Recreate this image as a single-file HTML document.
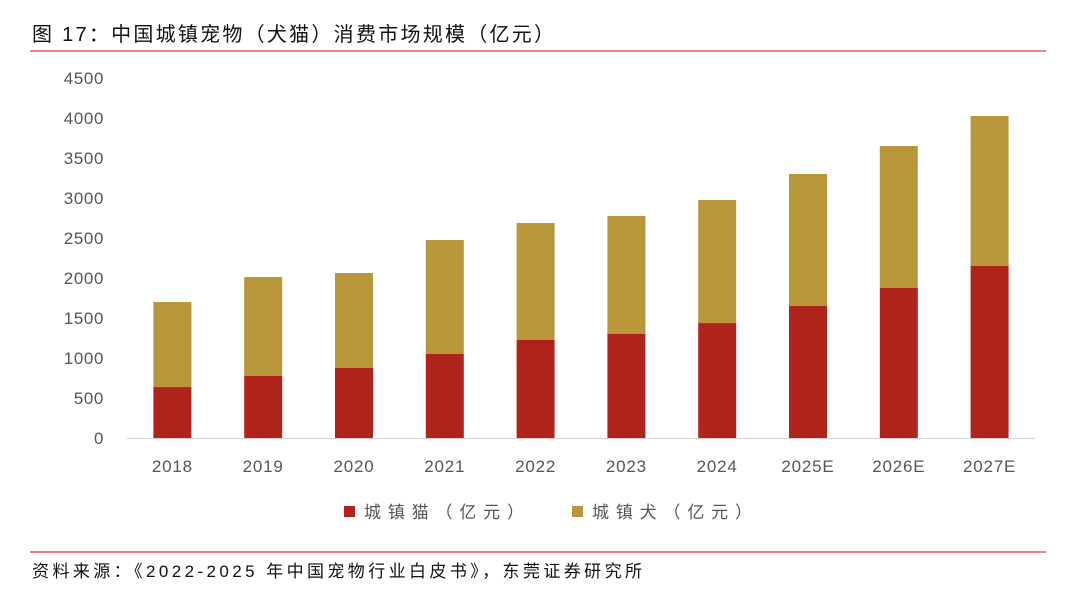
<!DOCTYPE html>
<html><head><meta charset="utf-8"><style>
body{margin:0;width:1080px;height:588px;background:#fff;overflow:hidden;font-family:"Liberation Sans","Noto Sans CJK SC",sans-serif}
</style></head><body>
<svg width="1080" height="588">
<text x="32" y="41" font-size="20" fill="#111" textLength="522" lengthAdjust="spacing">图 17：中国城镇宠物（犬猫）消费市场规模（亿元）</text>
<line x1="30" y1="51" x2="1046" y2="51" stroke="#e03a3a" stroke-width="1.2"/>
<g id="plot"></g>
<g>
<rect x="344" y="506" width="11" height="11" fill="#B0231A"/>
<text x="364" y="518" font-size="17" fill="#555" textLength="160" lengthAdjust="spacing">城镇猫（亿元）</text>
<rect x="572" y="506" width="11" height="11" fill="#B8963A"/>
<text x="592" y="518" font-size="17" fill="#555" textLength="160" lengthAdjust="spacing">城镇犬（亿元）</text>
</g>
<line x1="30" y1="552" x2="1046" y2="552" stroke="#e03a3a" stroke-width="1.2"/>
<text x="32" y="577" font-size="17" fill="#111" textLength="610" lengthAdjust="spacing">资料来源：《2022-2025 年中国宠物行业白皮书》，东莞证券研究所</text>
</svg>
<script>
const categories=["2018","2019","2020","2021","2022","2023","2024","2025E","2026E","2027E"];
const catValues=[637,775,875,1050,1225,1300,1437,1650,1875,2150];
const dogValues=[1063,1237,1187,1425,1462,1475,1538,1650,1775,1875];
const yTicks=[0,500,1000,1500,2000,2500,3000,3500,4000,4500];
const x0=127,x1=1035,y0=438,yMax=4500,yTop=78;
const ys=v=>y0-(v/yMax)*(y0-yTop);
const band=(x1-x0)/categories.length;
const xs=i=>x0+band*(i+0.5);
const bw=38;
const g=document.getElementById('plot');
const NS='http://www.w3.org/2000/svg';
function mk(t,a){const e=document.createElementNS(NS,t);for(const k in a)e.setAttribute(k,a[k]);g.appendChild(e);return e;}
yTicks.forEach(v=>{
 const t=mk('text',{x:104,y:ys(v)+6,'font-size':17,fill:'#555','text-anchor':'end','letter-spacing':'0.6'});
 t.textContent=v;
 
 
});
const ax=mk('line',{x1:x0,y1:y0+0.5,x2:x1,y2:y0+0.5,stroke:'#d0d0d0'});


categories.forEach((c,i)=>{
 const cx=xs(i);
 const r1=mk('rect',{x:cx-bw/2,y:ys(catValues[i]),width:bw,height:y0-ys(catValues[i]),fill:'#B0231A'});
 
 
 const tot=catValues[i]+dogValues[i];
 const r2=mk('rect',{x:cx-bw/2,y:ys(tot),width:bw,height:ys(catValues[i])-ys(tot),fill:'#B8963A'});
 
 
 const t=mk('text',{x:cx,y:472,'font-size':17,fill:'#555','text-anchor':'middle','letter-spacing':'0.8'});
 t.textContent=c;
 
 
});
</script>
</body></html>
